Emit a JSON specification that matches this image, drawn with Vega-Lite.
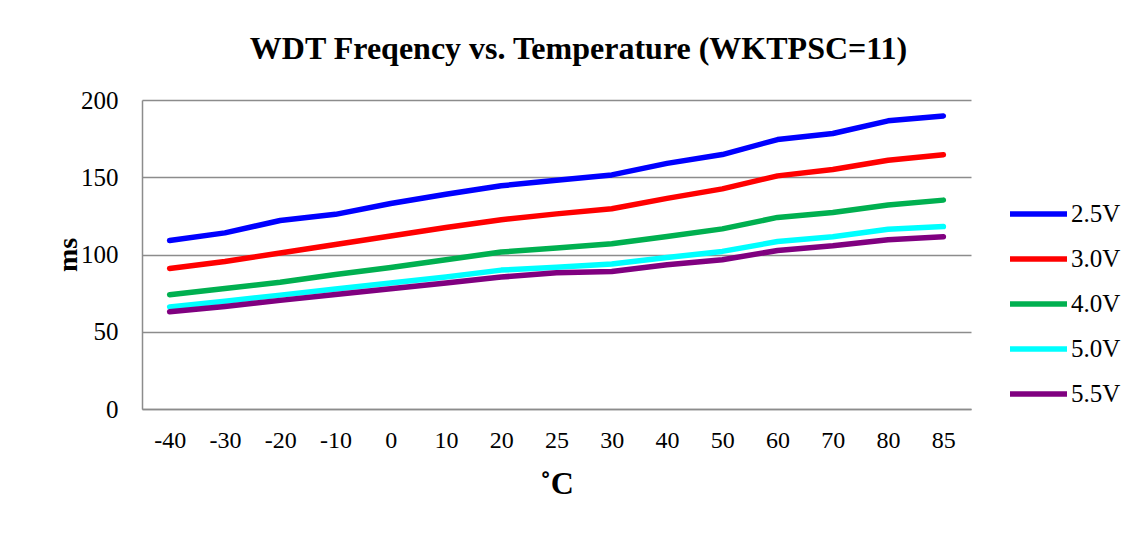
{
  "$schema": "https://vega.github.io/schema/vega-lite/v6.json",
  "autosize": {"type": "none"},
  "width": 829,
  "height": 309,
  "padding": {"left": 142, "top": 100, "right": 169, "bottom": 124},
  "background": "white",
  "title": {
    "text": "WDT Freqency vs. Temperature (WKTPSC=11)",
    "font": "Liberation Serif",
    "fontSize": 32,
    "fontWeight": "bold",
    "color": "black",
    "anchor": "middle",
    "baseline": "alphabetic",
    "offset": -3,
    "dx": 22
  },
  "data": {
    "values": [
      {"T": "-40", "V": "2.5V", "ms": 109}, {"T": "-30", "V": "2.5V", "ms": 114}, {"T": "-20", "V": "2.5V", "ms": 122}, {"T": "-10", "V": "2.5V", "ms": 126}, {"T": "0", "V": "2.5V", "ms": 133}, {"T": "10", "V": "2.5V", "ms": 139}, {"T": "20", "V": "2.5V", "ms": 144.5}, {"T": "25", "V": "2.5V", "ms": 148}, {"T": "30", "V": "2.5V", "ms": 151.5}, {"T": "40", "V": "2.5V", "ms": 159}, {"T": "50", "V": "2.5V", "ms": 164.7}, {"T": "60", "V": "2.5V", "ms": 174.4}, {"T": "70", "V": "2.5V", "ms": 178.3}, {"T": "80", "V": "2.5V", "ms": 186.5}, {"T": "85", "V": "2.5V", "ms": 189.7},
      {"T": "-40", "V": "3.0V", "ms": 91}, {"T": "-30", "V": "3.0V", "ms": 95.5}, {"T": "-20", "V": "3.0V", "ms": 101}, {"T": "-10", "V": "3.0V", "ms": 106.5}, {"T": "0", "V": "3.0V", "ms": 112}, {"T": "10", "V": "3.0V", "ms": 117.5}, {"T": "20", "V": "3.0V", "ms": 122.5}, {"T": "25", "V": "3.0V", "ms": 126.3}, {"T": "30", "V": "3.0V", "ms": 129.6}, {"T": "40", "V": "3.0V", "ms": 136.3}, {"T": "50", "V": "3.0V", "ms": 142.5}, {"T": "60", "V": "3.0V", "ms": 150.9}, {"T": "70", "V": "3.0V", "ms": 155}, {"T": "80", "V": "3.0V", "ms": 161}, {"T": "85", "V": "3.0V", "ms": 164.5},
      {"T": "-40", "V": "4.0V", "ms": 74}, {"T": "-30", "V": "4.0V", "ms": 78}, {"T": "-20", "V": "4.0V", "ms": 82}, {"T": "-10", "V": "4.0V", "ms": 87}, {"T": "0", "V": "4.0V", "ms": 91.6}, {"T": "10", "V": "4.0V", "ms": 96.6}, {"T": "20", "V": "4.0V", "ms": 101.6}, {"T": "25", "V": "4.0V", "ms": 104.2}, {"T": "30", "V": "4.0V", "ms": 106.9}, {"T": "40", "V": "4.0V", "ms": 111.7}, {"T": "50", "V": "4.0V", "ms": 116.6}, {"T": "60", "V": "4.0V", "ms": 124}, {"T": "70", "V": "4.0V", "ms": 127.2}, {"T": "80", "V": "4.0V", "ms": 132}, {"T": "85", "V": "4.0V", "ms": 135.2},
      {"T": "-40", "V": "5.0V", "ms": 66}, {"T": "-30", "V": "5.0V", "ms": 69.8}, {"T": "-20", "V": "5.0V", "ms": 73.7}, {"T": "-10", "V": "5.0V", "ms": 77.6}, {"T": "0", "V": "5.0V", "ms": 81.5}, {"T": "10", "V": "5.0V", "ms": 85.4}, {"T": "20", "V": "5.0V", "ms": 89.9}, {"T": "25", "V": "5.0V", "ms": 91.8}, {"T": "30", "V": "5.0V", "ms": 93.8}, {"T": "40", "V": "5.0V", "ms": 98.1}, {"T": "50", "V": "5.0V", "ms": 102}, {"T": "60", "V": "5.0V", "ms": 108.4}, {"T": "70", "V": "5.0V", "ms": 111.5}, {"T": "80", "V": "5.0V", "ms": 116.4}, {"T": "85", "V": "5.0V", "ms": 118.1},
      {"T": "-40", "V": "5.5V", "ms": 63}, {"T": "-30", "V": "5.5V", "ms": 66.4}, {"T": "-20", "V": "5.5V", "ms": 70.3}, {"T": "-10", "V": "5.5V", "ms": 74.1}, {"T": "0", "V": "5.5V", "ms": 77.8}, {"T": "10", "V": "5.5V", "ms": 81.5}, {"T": "20", "V": "5.5V", "ms": 85.4}, {"T": "25", "V": "5.5V", "ms": 88.2}, {"T": "30", "V": "5.5V", "ms": 89}, {"T": "40", "V": "5.5V", "ms": 93.3}, {"T": "50", "V": "5.5V", "ms": 96.6}, {"T": "60", "V": "5.5V", "ms": 102.6}, {"T": "70", "V": "5.5V", "ms": 105.6}, {"T": "80", "V": "5.5V", "ms": 109.5}, {"T": "85", "V": "5.5V", "ms": 111.5}
    ]
  },
  "mark": {"type": "line", "strokeWidth": 5.5, "strokeCap": "round", "strokeJoin": "round"},
  "encoding": {
    "x": {
      "field": "T",
      "type": "ordinal",
      "sort": ["-40", "-30", "-20", "-10", "0", "10", "20", "25", "30", "40", "50", "60", "70", "80", "85"],
      "scale": {"type": "point", "padding": 0.5},
      "axis": {
        "title": "˚C",
        "titleFont": "Liberation Serif",
        "titleFontSize": 32,
        "titleFontWeight": "bold",
        "titleColor": "black",
        "titleBaseline": "middle",
        "titleY": 74,
        "labelAngle": 0,
        "labelFont": "Liberation Serif",
        "labelFontSize": 24,
        "labelColor": "black",
        "labelBaseline": "middle",
        "labelPadding": 31,
        "ticks": false,
        "grid": false,
        "domainColor": "#8c8c8c",
        "domainWidth": 1.5
      }
    },
    "y": {
      "field": "ms",
      "type": "quantitative",
      "scale": {"domain": [0, 200], "nice": false, "zero": true},
      "axis": {
        "title": "ms",
        "titleFont": "Liberation Serif",
        "titleFontSize": 28,
        "titleFontWeight": "bold",
        "titleColor": "black",
        "titleAngle": -90,
        "titleBaseline": "middle",
        "titleX": -74,
        "titleY": 154.5,
        "values": [0, 50, 100, 150, 200],
        "labelFont": "Liberation Serif",
        "labelFontSize": 25,
        "labelColor": "black",
        "labelPadding": 24,
        "ticks": false,
        "grid": true,
        "gridColor": "#8c8c8c",
        "gridWidth": 1.5,
        "domainColor": "#8c8c8c",
        "domainWidth": 1.5
      }
    },
    "color": {
      "field": "V",
      "type": "nominal",
      "scale": {
        "domain": ["2.5V", "3.0V", "4.0V", "5.0V", "5.5V"],
        "range": ["#0000FF", "#FF0000", "#00B050", "#00FFFF", "#800080"]
      },
      "legend": {
        "title": null,
        "orient": "none",
        "legendX": 865,
        "legendY": 82.5,
        "symbolType": "stroke",
        "symbolSize": 3249,
        "symbolStrokeWidth": 5.5,
        "labelFont": "Liberation Serif",
        "labelFontSize": 25,
        "labelColor": "black",
        "labelOffset": 1,
        "rowPadding": -10
      }
    }
  },
  "config": {
    "view": {"stroke": null}
  }
}
